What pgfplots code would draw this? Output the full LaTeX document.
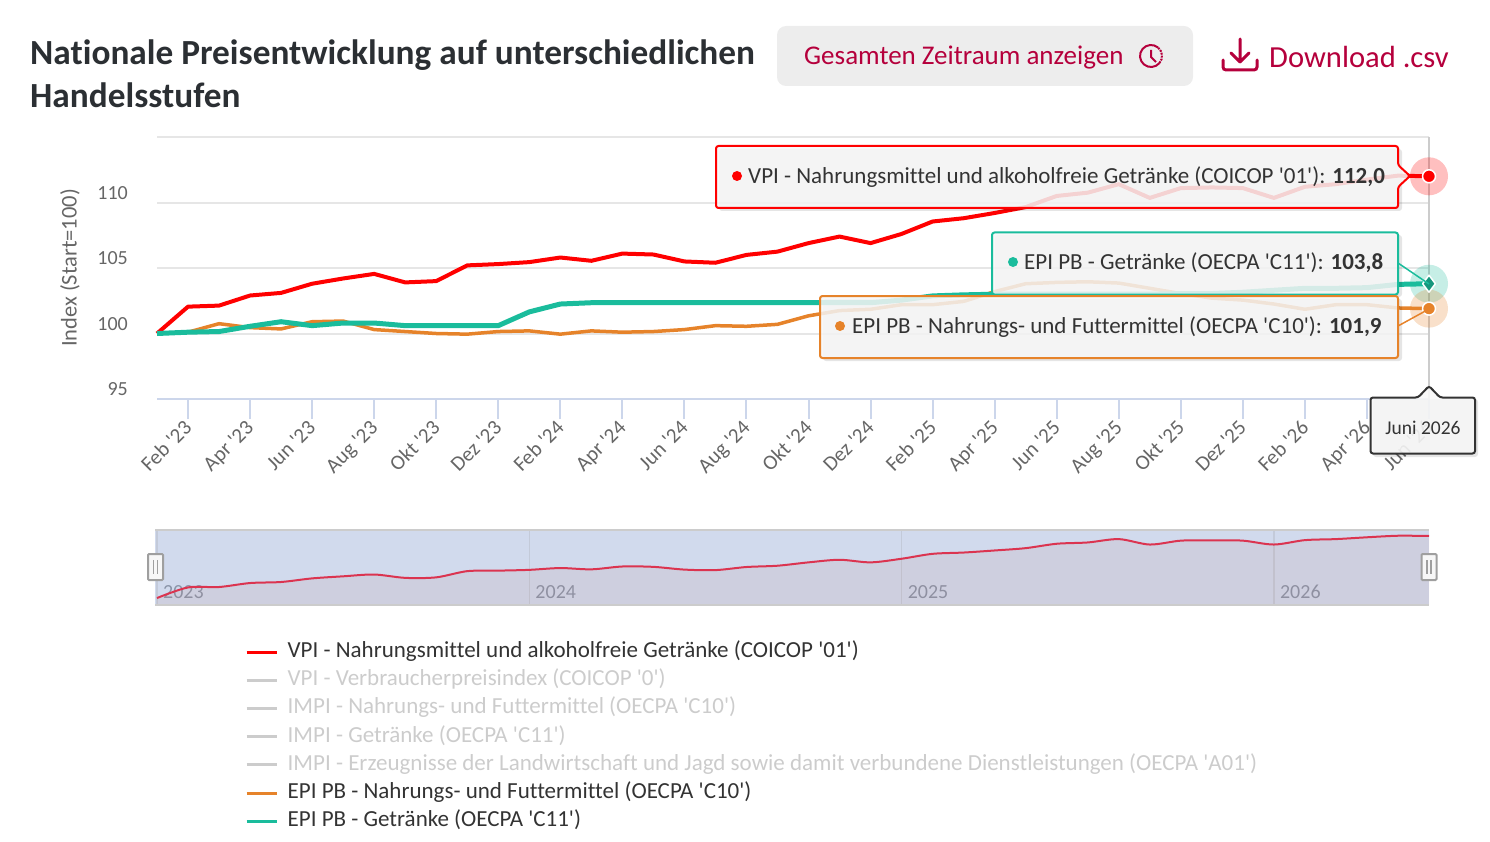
\documentclass[border=0pt]{standalone}
\usepackage{fontspec}
\setmainfont{Carlito}[Ligatures={TeXOff,CommonOff}]
\usepackage{pgfplots}
\usepackage{pgfplotstable}
\pgfplotsset{compat=1.18}

\definecolor{vpired}{HTML}{FF0000}
\definecolor{epiorange}{HTML}{E6832A}
\definecolor{epigreen}{HTML}{1ABC9C}
\definecolor{txt}{HTML}{333333}
\definecolor{titlecol}{HTML}{2B2F33}
\definecolor{axgrey}{HTML}{666666}
\definecolor{gridgrey}{HTML}{E6E6E6}
\definecolor{axblue}{HTML}{CCD6EB}
\definecolor{legendgrey}{HTML}{CCCCCC}
\definecolor{crimson}{HTML}{B5003C}
\definecolor{navblue}{HTML}{D1DAED}
\definecolor{navarea}{HTML}{BD766B}
\definecolor{navline}{HTML}{DB3450}
\definecolor{navgrid}{HTML}{C3CAD9}
\definecolor{navtext}{HTML}{8A94A8}
\definecolor{tipfill}{HTML}{F7F7F7}

\newcommand\fs[1]{\fontsize{#1}{#1}\selectfont}

% index values, month 0 = Jan '23, month 41 = Jun '26
\pgfplotstableread{
m vpi c10 c11
0 100.00 100.00 100.00
1 102.05 100.10 100.10
2 102.13 100.75 100.15
3 102.90 100.45 100.55
4 103.10 100.35 100.90
5 103.80 100.90 100.60
6 104.20 100.95 100.80
7 104.55 100.30 100.80
8 103.90 100.15 100.60
9 104.00 100.00 100.60
10 105.20 99.95 100.60
11 105.30 100.15 100.60
12 105.45 100.20 101.65
13 105.80 99.95 102.25
14 105.55 100.20 102.35
15 106.10 100.10 102.35
16 106.03 100.15 102.35
17 105.50 100.30 102.35
18 105.40 100.60 102.35
19 106.00 100.55 102.35
20 106.25 100.70 102.35
21 106.90 101.35 102.35
22 107.40 101.75 102.35
23 106.90 101.85 102.35
24 107.60 102.20 102.55
25 108.55 102.20 102.87
26 108.80 102.45 102.95
27 109.20 103.20 103.00
28 109.65 103.80 103.00
29 110.50 103.90 103.00
30 110.75 103.95 103.00
31 111.40 103.85 103.00
32 110.35 103.45 103.00
33 111.10 103.05 103.05
34 111.15 102.70 103.05
35 111.10 102.55 103.15
36 110.35 102.25 103.30
37 111.20 101.85 103.45
38 111.40 102.20 103.45
39 111.75 102.20 103.50
40 112.05 101.95 103.75
41 112.00 101.90 103.80
}\prices

\begin{document}
\begin{tikzpicture}
\useasboundingbox (0,0) rectangle (1490pt,-842pt);

% main chart
\begin{axis}[
    scale only axis, width=1272pt, height=262pt,
    at={(157pt,-399pt)}, anchor=south west,
    xmin=0, xmax=41, ymin=95, ymax=115,
    clip=false,
    axis x line*=bottom, axis y line*=left,
    x axis line style={draw=axblue, line width=2pt, -},
    y axis line style={draw=none},
    xtick={1,3,...,41},
    xticklabels={Feb '23,Apr '23,Jun '23,Aug '23,Okt '23,Dez '23,Feb '24,Apr '24,Jun '24,Aug '24,Okt '24,Dez '24,Feb '25,Apr '25,Jun '25,Aug '25,Okt '25,Dez '25,Feb '26,Apr '26,Jun '26},
    xticklabel style={rotate=45, anchor=north east, inner sep=0pt, xshift=-3.6pt, yshift=4pt, text=axgrey, font=\fs{21}},
    xtick style={draw=axblue, line width=2pt},
    tick align=outside, major tick length=20pt,
    ytick={95,100,105,110,115},
    yticklabels={95,100,105,110,},
    yticklabel style={anchor=east, inner sep=0pt, xshift=-9pt, yshift=9.5pt, text=axgrey, font=\fs{20}},
    ytick style={draw=none},
    ymajorgrids, grid style={draw=gridgrey, line width=2pt},
    ylabel={Index (Start=100)},
    every axis y label/.style={at={(axis description cs:-0.0685,0.5)}, rotate=90, anchor=center, text=axgrey, font=\fs{22.5}},
    legend style={at={(axis description cs:0.0668,-0.9135)}, anchor=north west, draw=none, fill=none,
      font=\fs{23}, text=txt, legend cell align=left, row sep=5.2pt,
      nodes={inner sep=0pt, text height=17pt, text depth=6pt},
      /tikz/every odd column/.style={column sep=9.5pt}},
    legend image code/.code={\draw[#1, line width=3pt] (0pt,0pt) -- (30pt,0pt);},
    line join=round,
  ]
  % crosshair
  \addplot[forget plot, draw=legendgrey, line width=1.5pt] coordinates {(41,95) (41,115)};

  \addplot[vpired, line width=4pt] table[x=m, y=vpi] {\prices};
  \addlegendentry{VPI - Nahrungsmittel und alkoholfreie Getränke (COICOP '01')}
  \addlegendimage{legendgrey}
  \addlegendentry{\textcolor{legendgrey}{VPI - Verbraucherpreisindex (COICOP '0')}}
  \addlegendimage{legendgrey}
  \addlegendentry{\textcolor{legendgrey}{IMPI - Nahrungs- und Futtermittel (OECPA 'C10')}}
  \addlegendimage{legendgrey}
  \addlegendentry{\textcolor{legendgrey}{IMPI - Getränke (OECPA 'C11')}}
  \addlegendimage{legendgrey}
  \addlegendentry{\textcolor{legendgrey}{IMPI - Erzeugnisse der Landwirtschaft und Jagd sowie damit verbundene Dienstleistungen (OECPA 'A01')}}
  \addplot[epiorange, line width=3.5pt] table[x=m, y=c10] {\prices};
  \addlegendentry{EPI PB - Nahrungs- und Futtermittel (OECPA 'C10')}
  \addplot[epigreen, line width=5pt] table[x=m, y=c11] {\prices};
  \addlegendentry{EPI PB - Getränke (OECPA 'C11')}

  % hover halos and markers on the last month
  \addplot[forget plot, only marks, mark=*, mark size=19pt, mark options={draw opacity=0, fill=vpired, fill opacity=.25}] coordinates {(41,112.0)};
  \addplot[forget plot, only marks, mark=*, mark size=19pt, mark options={draw opacity=0, fill=epigreen, fill opacity=.25}] coordinates {(41,103.8)};
  \addplot[forget plot, only marks, mark=*, mark size=19pt, mark options={draw opacity=0, fill=epiorange, fill opacity=.25}] coordinates {(41,101.9)};
  \addplot[forget plot, only marks, mark=*, mark size=6.5pt, mark options={draw=white, line width=1.5pt, fill=vpired}] coordinates {(41,112.0)};
  \addplot[forget plot, only marks, mark=diamond*, mark size=8.5pt, mark options={draw=white, line width=1.5pt, fill=epigreen!80!black}] coordinates {(41,103.8)};
  \addplot[forget plot, only marks, mark=*, mark size=6.5pt, mark options={draw=white, line width=1.5pt, fill=epiorange}] coordinates {(41,101.9)};
\end{axis}

% navigator
\begin{axis}[
    scale only axis, width=1274pt, height=75pt,
    at={(155pt,-605pt)}, anchor=south west,
    xmin=-0.0645, xmax=41, ymin=98.65, ymax=113.16,
    axis background/.style={fill=navblue},
    axis line style={draw=none},
    axis x line*=bottom,
    ytick=\empty,
    xtick={0,12,24,36}, xticklabels={2023,2024,2025,2026},
    xticklabel style={anchor=south west, inner sep=0pt, xshift=6pt, yshift=6pt, text=navtext, font=\fs{20}},
    major tick length=0pt,
    xmajorgrids, grid style={draw=navgrid, line width=1.5pt},
  ]
  \addplot[draw=none, fill=navarea, fill opacity=.1, smooth] table[x=m, y=vpi] {\prices} \closedcycle;
  \addplot[navline, line width=2pt, smooth] table[x=m, y=vpi] {\prices};
\end{axis}

\begin{scope}[x=1pt, y=-1pt]
  % navigator frame and handles
  \draw[legendgrey, line width=2pt] (155,530) -- (1429,530) (155,605) -- (1429,605);
  \foreach \hx in {155.5,1429} {
    \draw[draw=gray!75, fill=tipfill, line width=2pt, rounded corners=1pt] (\hx-7.5,554) rectangle (\hx+7.5,580);
    \draw[gray!75, line width=1.2pt] (\hx-2,560) -- (\hx-2,574) (\hx+2,560) -- (\hx+2,574);
  }

  % tooltips
  \fill[black, opacity=.10, rounded corners=3pt] (719,149) rectangle (1402,211);
  \filldraw[draw=vpired, fill=tipfill, fill opacity=.85, line width=2pt, rounded corners=2.5pt]
    (716,146) -- (1398,146) -- (1398,165) -- (1410,176) -- (1398,187) -- (1398,208) -- (716,208) -- cycle;
  \fill[vpired] (737,176) circle (5);
  \node[anchor=base west, inner sep=0pt, text=txt, font=\fs{23}] at (748,183.5) {VPI - Nahrungsmittel und alkoholfreie Getränke (COICOP '01'): \textbf{112,0}};

  \fill[black, opacity=.10, rounded corners=3pt] (995,235) rectangle (1402,297);
  \draw[epigreen, line width=1.5pt] (1398,263) -- (1429,284);
  \filldraw[draw=epigreen, fill=tipfill, fill opacity=.85, line width=2pt, rounded corners=2.5pt] (992,232.5) rectangle (1398,294.5);
  \fill[epigreen] (1013,262) circle (5);
  \node[anchor=base west, inner sep=0pt, text=txt, font=\fs{23}] at (1024,269.5) {EPI PB - Getränke (OECPA 'C11'): \textbf{103,8}};

  \fill[black, opacity=.10, rounded corners=3pt] (823,299) rectangle (1402,361);
  \draw[epiorange, line width=1.5pt] (1398,326) -- (1429,309);
  \filldraw[draw=epiorange, fill=tipfill, fill opacity=.85, line width=2pt, rounded corners=2.5pt] (820,296) rectangle (1398,358);
  \fill[epiorange] (840,326) circle (5);
  \node[anchor=base west, inner sep=0pt, text=txt, font=\fs{23}] at (852,333.5) {EPI PB - Nahrungs- und Futtermittel (OECPA 'C10'): \textbf{101,9}};

  % date label under the crosshair
  \fill[black, opacity=.10, rounded corners=3pt] (1373,399) rectangle (1478,457);
  \filldraw[draw=txt, fill=tipfill, fill opacity=.9, line width=2pt, rounded corners=2.5pt]
    (1370.5,397.5) -- (1418,397.5) -- (1429,386) -- (1440,397.5) -- (1475,397.5) -- (1475,453.5) -- (1370.5,453.5) -- cycle;
  \node[anchor=base, inner sep=0pt, text=txt, font=\fs{19.5}] at (1423,434.5) {Juni 2026};

  % heading
  \node[anchor=base west, inner sep=0pt, text=titlecol, font=\fs{35.3}\bfseries] at (30,65) {Nationale Preisentwicklung auf unterschiedlichen};
  \node[anchor=base west, inner sep=0pt, text=titlecol, font=\fs{35.3}\bfseries] at (30,108) {Handelsstufen};

  % button
  \fill[black!7, rounded corners=9pt] (777,26) rectangle (1193,86);
  \node[anchor=base west, inner sep=0pt, text=crimson, font=\fs{27}] at (804,65) {Gesamten Zeitraum anzeigen};
  \begin{scope}[shift={(1151,56)}, x=1pt, y=1pt]
    \draw[crimson, line width=2pt] (50:11) arc[start angle=50, end angle=320, radius=11pt];
    \draw[crimson, line width=2pt, densely dotted] (-40:11) arc[start angle=-40, end angle=50, radius=11pt];
    \draw[crimson, line width=2pt] (0,6) -- (0,-1) -- (5,-6);
  \end{scope}

  % download
  \draw[crimson, line width=3pt, line cap=round, line join=round] (1240,39) -- (1240,62) (1231,53) -- (1240,62) -- (1249,53);
  \draw[crimson, line width=3pt, line cap=round, rounded corners=3pt] (1223,60) -- (1223,70) -- (1257,70) -- (1257,60);
  \node[anchor=base west, inner sep=0pt, text=crimson, font=\fs{30.6}] at (1269,67.5) {Download .csv};
\end{scope}
\end{tikzpicture}
\end{document}
